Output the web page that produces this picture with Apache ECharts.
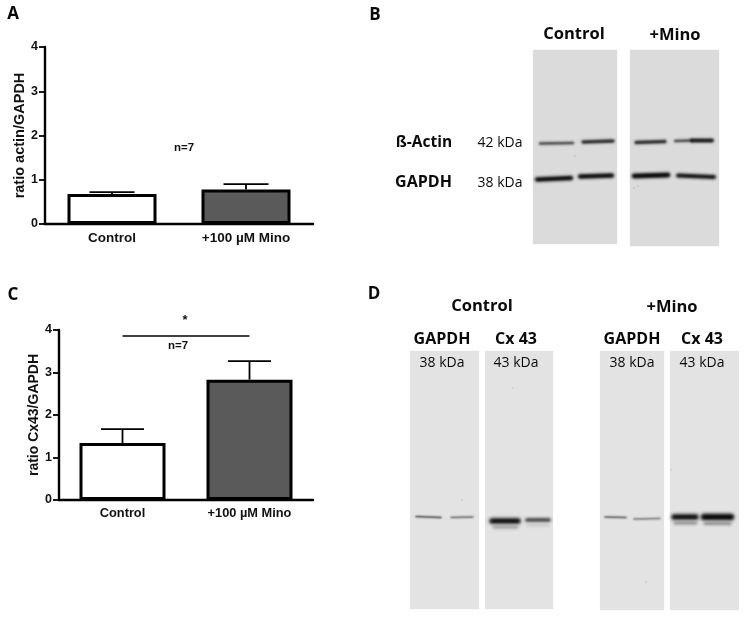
<!DOCTYPE html>
<html>
<head>
<meta charset="utf-8">
<style>html,body{margin:0;padding:0;background:#fff}#c{width:746px;height:617px}</style>
<script src="https://cdn.jsdelivr.net/npm/echarts@6/dist/echarts.min.js"></script>
</head>
<body>
<div id="c"></div>
<script>
// ---- chart data ----
const categories = ['Control', '+100 µM Mino'];
const yTicks = [0, 1, 2, 3, 4];
const actinMeans = [0.68, 0.78];
const actinErrorTops = [0.72, 0.90];
const cx43Means = [1.34, 2.83];
const cx43ErrorTops = [1.67, 3.27];
const sigLineValue = 3.86;

// ---- styling ----
const SANS = '"Liberation Sans", Arial, sans-serif';
const PANEL = '"Open Sans", sans-serif';
const barFills = ['#ffffff', '#5a5a5a'];

function errorSeries(idx, means, tops, capW) {
  return {
    type: 'custom', xAxisIndex: idx, yAxisIndex: idx, silent: true, z: 1,
    data: means.map((m, i) => [i, m, tops[i]]),
    encode: { x: 0, y: [1, 2] },
    renderItem(params, api) {
      const low = api.coord([api.value(0), api.value(1)]);
      const high = api.coord([api.value(0), api.value(2)]);
      const st = { stroke: '#000', lineWidth: 1.8, fill: null };
      return { type: 'group', children: [
        { type: 'line', shape: { x1: low[0], y1: low[1], x2: high[0], y2: high[1] }, style: st },
        { type: 'line', shape: { x1: high[0] - capW / 2, y1: high[1], x2: high[0] + capW / 2, y2: high[1] }, style: st }
      ]};
    }
  };
}
function barSeries(idx, means, w, extra) {
  return Object.assign({
    type: 'bar', xAxisIndex: idx, yAxisIndex: idx, barWidth: w, silent: true, z: 2,
    data: means.map((v, i) => ({ value: v, itemStyle: { color: barFills[i], borderColor: '#000', borderWidth: 3 } }))
  }, extra || {});
}
function xAxis(idx, size) {
  return {
    type: 'category', gridIndex: idx, data: categories,
    axisLine: { lineStyle: { color: '#000', width: 2.4 } },
    axisTick: { alignWithLabel: true, length: 5, lineStyle: { color: '#000', width: 1.8 } },
    axisLabel: { color: '#111', fontFamily: SANS, fontWeight: 'bold', fontSize: size, margin: 7, interval: 0 }
  };
}
function yAxis(idx, name, gap, nameSize) {
  return {
    type: 'value', gridIndex: idx, min: yTicks[0], max: yTicks[yTicks.length - 1], interval: 1,
    name: name, nameLocation: 'middle', nameGap: gap,
    nameTextStyle: { color: '#111', fontFamily: SANS, fontWeight: 'bold', fontSize: nameSize },
    splitLine: { show: false },
    axisLine: { show: true, onZero: false, lineStyle: { color: '#000', width: 2.4 } },
    axisTick: { show: true, length: 6, lineStyle: { color: '#000', width: 1.8 } },
    axisLabel: { color: '#111', fontFamily: SANS, fontWeight: 'bold', fontSize: 12.5, margin: 7 }
  };
}

// ---- blot artwork (pictures of gels, not chart marks) ----
const gels = [
  [533, 50, 84, 194, '#dbdbdb'], [630, 50, 89, 196, '#dbdbdb'],
  [410, 351, 69, 258, '#e3e3e3'], [485, 351, 68, 258, '#e3e3e3'],
  [600, 351, 64, 259, '#e3e3e3'], [670, 351, 69, 259, '#e3e3e3']
];
// x1, y1, x2, y2, width, colour, blur
const bands = [
  [540, 143.5, 573, 143, 2.4, '#333', 2.5], [583, 142, 613, 141, 3.4, '#222', 2.5],
  [537, 179.5, 571, 178, 4.4, '#000', 3], [580, 176.5, 612, 175.5, 4.4, '#000', 3],
  [636, 142.5, 665, 141.5, 3.4, '#222', 2.5], [675, 141, 692, 140.5, 2.4, '#333', 2.5], [692, 140.5, 712, 140.5, 3.8, '#111', 2.5],
  [634, 176, 668, 175, 4.8, '#000', 3], [678, 175.5, 714, 177, 4, '#000', 3],
  [416, 516.5, 441, 517.5, 1.6, '#333', 2], [451, 517.5, 473, 517, 1.5, '#555', 2],
  [492, 521, 518, 521, 5.4, '#000', 3.5], [494, 527, 517, 527, 3, '#999', 3], [527, 520, 549, 520, 3.8, '#444', 3], [528, 525, 548, 525, 2.4, '#c4c4c4', 3],
  [605, 517, 626, 517.5, 1.6, '#444', 2], [634, 519, 660, 518.5, 1.6, '#666', 2],
  [674, 517, 696, 517, 5.4, '#000', 3.5], [675, 523, 696, 523, 3, '#888', 3],
  [704, 517, 731, 517, 6.4, '#000', 3.5], [705, 523.5, 730, 523.5, 3, '#888', 3]
];
const specks = [[575, 156], [634, 188], [638, 186], [462, 500], [513, 388], [646, 582], [671, 470]];
// text, x, y, size, weight
const panelText = [
  ['A', 13, 14, 17, 700], ['B', 375, 15, 17, 700], ['C', 13, 295, 17, 700], ['D', 374, 294, 17, 700],
  ['Control', 574, 34, 16.5, 700], ['+Mino', 675, 35, 16.5, 700],
  ['ß-Actin', 424, 143, 15.5, 700], ['GAPDH', 423.5, 182, 16, 700],
  ['42 kDa', 500, 143, 14, 400], ['38 kDa', 500, 183, 14, 400],
  ['Control', 482, 306, 16.5, 700], ['+Mino', 672, 307, 16.5, 700],
  ['GAPDH', 442, 339, 16, 700], ['Cx 43', 516, 339, 16, 700], ['GAPDH', 632, 339, 16, 700], ['Cx 43', 702, 339, 16, 700],
  ['38 kDa', 442, 363, 14, 400], ['43 kDa', 516, 363, 14, 400], ['38 kDa', 632, 363, 14, 400], ['43 kDa', 702, 363, 14, 400]
];
const chartNotes = [['n=7', 184, 148, 11.5], ['*', 185, 320, 13], ['n=7', 178, 346, 11.5]];

const OFF = 2000; // drawn off-canvas so only the soft shadow shows
const graphic = [];
gels.forEach(g => graphic.push({ type: 'rect', silent: true, z: 0,
  shape: { x: g[0], y: g[1], width: g[2], height: g[3] },
  style: { fill: g[4], shadowBlur: 1, shadowColor: g[4] } }));
bands.forEach(b => graphic.push({ type: 'line', silent: true, z: 1,
  shape: { x1: b[0] - OFF, y1: b[1], x2: b[2] - OFF, y2: b[3] },
  style: { stroke: b[5], lineWidth: b[4], lineCap: 'round', shadowBlur: b[6], shadowColor: b[5], shadowOffsetX: OFF } }));
specks.forEach(s => graphic.push({ type: 'circle', silent: true, z: 1,
  shape: { cx: s[0], cy: s[1], r: 0.7 }, style: { fill: '#b5b5b5' } }));
panelText.forEach(t => graphic.push({ type: 'text', silent: true, z: 5, x: t[1], y: t[2],
  style: { text: t[0], fill: '#0a0a0a', font: t[4] + ' ' + t[3] + 'px ' + PANEL, textAlign: 'center', textVerticalAlign: 'middle' } }));
chartNotes.forEach(t => graphic.push({ type: 'text', silent: true, z: 5, x: t[1], y: t[2],
  style: { text: t[0], fill: '#111', font: '700 ' + t[3] + 'px ' + SANS, textAlign: 'center', textVerticalAlign: 'middle' } }));

const chart = echarts.init(document.getElementById('c'), null, { renderer: 'canvas', width: 746, height: 617 });
chart.setOption({
  animation: false,
  backgroundColor: '#fff',
  grid: [
    { left: 45, top: 47, width: 268, height: 177 },
    { left: 59, top: 330, width: 254, height: 170 }
  ],
  xAxis: [xAxis(0, 13.5), xAxis(1, 12.8)],
  yAxis: [yAxis(0, 'ratio actin/GAPDH', 18, 14.5), yAxis(1, 'ratio Cx43/GAPDH', 18, 14)],
  series: [
    errorSeries(0, actinMeans, actinErrorTops, 45),
    barSeries(0, actinMeans, 89),
    errorSeries(1, cx43Means, cx43ErrorTops, 43),
    barSeries(1, cx43Means, 86, {
      markLine: {
        silent: true, symbol: 'none', label: { show: false },
        lineStyle: { color: '#000', type: 'solid', width: 1.5 },
        data: [[{ coord: [0, sigLineValue] }, { coord: [1, sigLineValue] }]]
      }
    })
  ],
  graphic: graphic
});
</script>
</body>
</html>
